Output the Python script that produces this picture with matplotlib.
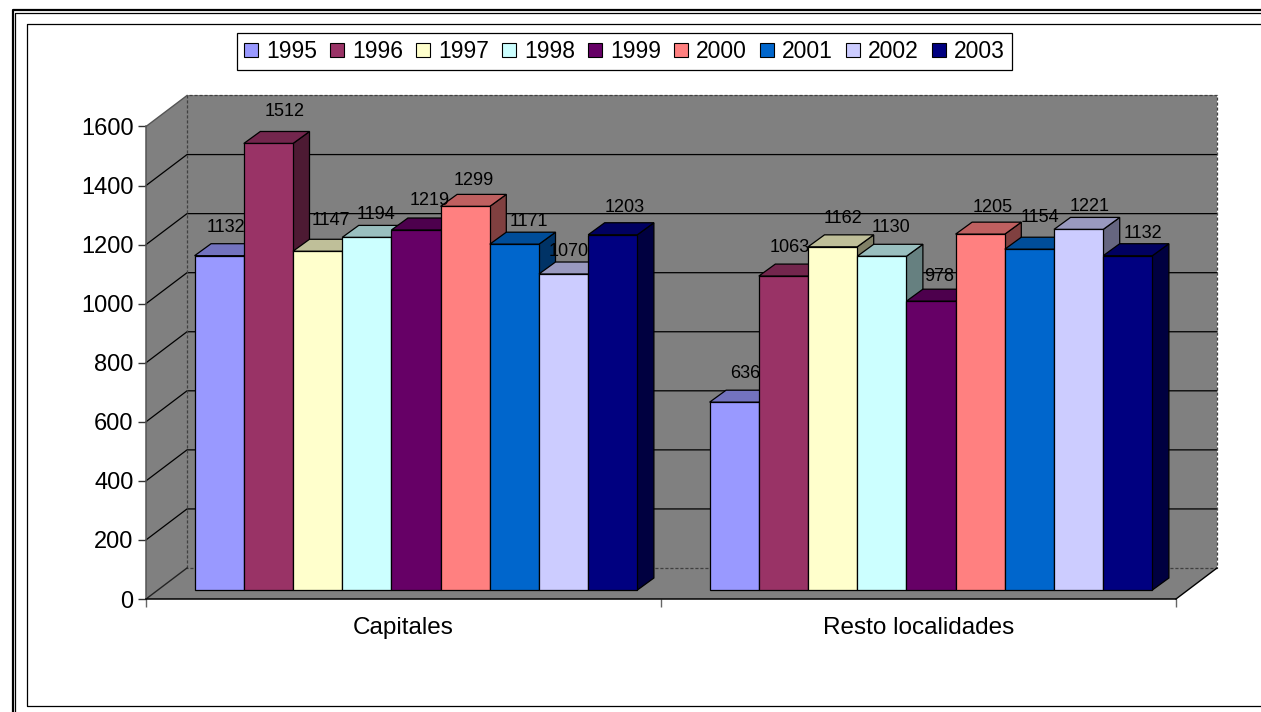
import numpy as np
import matplotlib
matplotlib.use('Agg')
import matplotlib.pyplot as plt
from matplotlib.lines import Line2D
from matplotlib.patches import Patch, Polygon
from matplotlib.colors import to_rgb

plt.rcParams['font.family'] = ['Liberation Sans', 'DejaVu Sans']

categories = ['Capitales', 'Resto localidades']
years = ['1995', '1996', '1997', '1998', '1999', '2000', '2001', '2002', '2003']
capitales = [1132, 1512, 1147, 1194, 1219, 1299, 1171, 1070, 1203]
resto = [636, 1063, 1162, 1130, 978, 1205, 1154, 1221, 1132]
colors = ['#9999FF', '#993366', '#FFFFCC', '#CCFFFF', '#660066', '#FF8080', '#0066CC', '#CCCCFF', '#000080']
yticks = [0, 200, 400, 600, 800, 1000, 1200, 1400, 1600]

W, H = 1261, 712
fig = plt.figure(figsize=(W / 100, H / 100), dpi=100, facecolor='white')

# front plane of the fake 3d box, in pixels of the picture
left, right, bottom, top = 146, 1176, 599, 126.5
ax = fig.add_axes([left / W, 1 - bottom / H, (right - left) / W, (bottom - top) / H])
ax.set_xlim(0, 2)
ax.set_ylim(0, 1600)
ax.patch.set_visible(False)

xpx = 2 / (right - left)   # one pixel in x data units
ypx = 1600 / (bottom - top)  # one pixel in y data units
box_dx, box_dy = 41 * xpx, 31 * ypx
bar_dx, bar_dy = 16.5 * xpx, 12 * ypx
base_dx, base_dy = 12.5 * xpx, 9 * ypx
bar_w = 49.2 * xpx

# hand placed label nudges in pixels, y positive goes up (excel puts them a bit all over the place)
nudges = [[(-4, -1), (6, 3), (3, 2), (-1, -6), (3, 0), (-2, -3), (4, -6), (-5, -7), (1, -2)],
          [(1, 0), (-4, -1), (0, -1), (-1, 0), (-2, -4), (2, -3), (0, 3), (1, -6), (5, -7)]]


def poly(pts, fc, ec='none', lw=0.0, z=1):
    ax.add_patch(Polygon(pts, closed=True, facecolor=fc, edgecolor=ec, linewidth=lw, zorder=z, clip_on=False))


def shade(c, f):
    return tuple(v * f for v in to_rgb(c))


# walls and floor
gray = '#808080'
poly([(0, 0), (box_dx, box_dy), (box_dx, 1600 + box_dy), (0, 1600)], gray)
poly([(box_dx, box_dy), (2 + box_dx, box_dy), (2 + box_dx, 1600 + box_dy), (box_dx, 1600 + box_dy)], gray)
poly([(0, 0), (2, 0), (2 + box_dx, box_dy), (box_dx, box_dy)], gray)

# gridlines, back wall and left wall
for v in yticks[1:-1]:
    ax.plot([0, box_dx, 2 + box_dx], [v, v + box_dy, v + box_dy], color='black', lw=0.9, zorder=2, clip_on=False)

# dashed outline of the back wall
ax.plot([box_dx, box_dx, 2 + box_dx, 2 + box_dx, box_dx],
        [box_dy, 1600 + box_dy, 1600 + box_dy, box_dy, box_dy],
        color='#404040', lw=0.9, ls=(0, (2.5, 1.5)), zorder=2, clip_on=False)
ax.plot([0, box_dx], [1600, 1600 + box_dy], color='#555555', lw=1.0, zorder=2, clip_on=False)
ax.plot([0, box_dx], [0, box_dy], color='#222222', lw=1.0, zorder=2, clip_on=False)
ax.plot([2, 2 + box_dx], [0, box_dy], color='black', lw=1.0, zorder=2, clip_on=False)

# bars, left to right so that each one hides the side of the one before
z = 3
for i, vals in enumerate([capitales, resto]):
    x0 = i + 0.5 - 4.5 * bar_w + base_dx
    for j, v in enumerate(vals):
        a = x0 + j * bar_w
        b = a + bar_w
        c = colors[j]
        y0 = base_dy
        y1 = base_dy + v
        poly([(b, y0), (b + bar_dx, y0 + bar_dy), (b + bar_dx, y1 + bar_dy), (b, y1)], shade(c, 0.5), 'black', 0.9, z)
        poly([(a, y1), (b, y1), (b + bar_dx, y1 + bar_dy), (a + bar_dx, y1 + bar_dy)], shade(c, 0.75), 'black', 0.9, z)
        poly([(a, y0), (b, y0), (b, y1), (a, y1)], c, 'black', 0.9, z)
        z += 1

# value labels over everything
for i, vals in enumerate([capitales, resto]):
    x0 = i + 0.5 - 4.5 * bar_w + base_dx
    for j, v in enumerate(vals):
        nx, ny = nudges[i][j]
        ax.annotate(str(v), (x0 + (j + 0.5) * bar_w, base_dy + v),
                    xytext=(7.5 + nx * 0.72, 21 + ny * 0.72), textcoords='offset points',
                    ha='center', va='center', fontsize=13, color='black', zorder=100, annotation_clip=False)

# axes
ax.set_yticks(yticks)
ax.set_yticklabels([str(v) for v in yticks], fontsize=17, color='black')
ax.set_xticks([0, 1, 2])
ax.set_xticklabels([])
ax.tick_params(axis='y', length=6, width=1, color='#333333', pad=3.0)
ax.tick_params(axis='x', length=5.5, width=1, color='#666666')
for s in ['top', 'right']:
    ax.spines[s].set_visible(False)
ax.spines['left'].set_color('#555555')
ax.spines['left'].set_linewidth(1.1)
ax.spines['bottom'].set_color('black')
ax.spines['bottom'].set_linewidth(1.1)
for i, name in enumerate(categories):
    ax.annotate(name, (i + 0.5, 0), xytext=(0, -21), textcoords='offset points', ha='center', va='center',
                fontsize=17.5, color='black', annotation_clip=False)

# legend
handles = [Patch(facecolor=c, edgecolor='black', linewidth=0.8) for c in colors]
leg = fig.legend(handles, years, ncol=9, loc='center', bbox_to_anchor=(624.5 / W, 1 - 51.5 / H),
                 fontsize=16.5, frameon=True, fancybox=False, edgecolor='black', framealpha=1,
                 handlelength=0.61, handleheight=0.61, handletextpad=0.35, columnspacing=0.57,
                 borderpad=0.29, borderaxespad=0)
leg.get_frame().set_linewidth(0.9)

# frames round the picture
def frame(xs, ys, lw):
    fig.add_artist(Line2D(np.array(xs) / W, 1 - np.array(ys) / H, color='black', lw=lw))


frame([12.5, 12.5, W], [H, 9.7, 9.7], 1.6)
frame([15, 15, W], [H, 12.5, 12.5], 0.9)
frame([W, 26.5, 26.5, W], [23.5, 23.5, 705.5, 705.5], 0.9)

fig.savefig('out.png', dpi=100)
